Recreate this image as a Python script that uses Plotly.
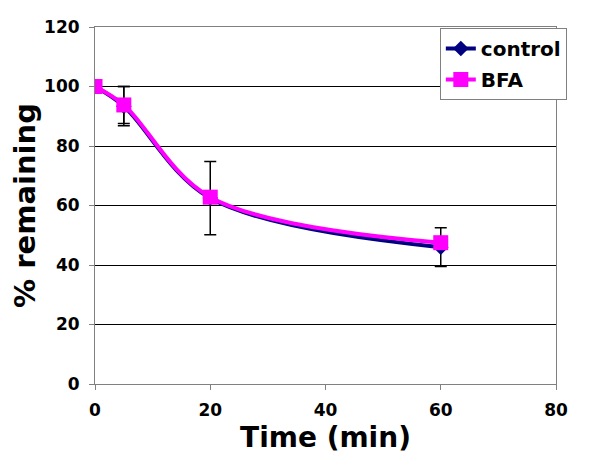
import plotly.graph_objects as go

# time points (min)
time = [0, 5, 20, 60]

# % remaining
control = [100, 93.4, 62.5, 46.0]
control_err = [0, 6.6, 12.3, 6.5]
bfa = [100, 93.8, 62.8, 47.5]
bfa_err = [0, 6.2, 0, 0]

FONT = "DejaVu Sans"

fig = go.Figure()

fig.add_trace(go.Scatter(
    x=time, y=control, name="control", legendgroup="a",
    mode="lines+markers",
    line=dict(color="#000080", width=4, shape="spline", smoothing=1),
    marker=dict(symbol="diamond", size=12, color="#000080"),
    error_y=dict(type="data", array=control_err, color="black", thickness=1.5, width=6),
))
fig.add_trace(go.Scatter(
    x=time, y=bfa, name="BFA", legendgroup="b",
    mode="lines+markers",
    line=dict(color="#FF00FF", width=4, shape="spline", smoothing=1),
    marker=dict(symbol="square", size=15, color="#FF00FF"),
    error_y=dict(type="data", array=bfa_err, color="black", thickness=1.5, width=6),
))

# page body has an 8px margin, so the figure is drawn 8px smaller and offset
fig.update_layout(
    width=592, height=459,
    margin=dict(l=87, r=44, t=19, b=83, autoexpand=False),
    paper_bgcolor="white", plot_bgcolor="white",
    font=dict(family=FONT, color="black"),
    legend=dict(
        x=0.748, y=0.997, xanchor="left", yanchor="top",
        bordercolor="#808080", borderwidth=1, bgcolor="white",
        font=dict(family=FONT, size=20, color="black", weight="bold"),
        traceorder="grouped", tracegroupgap=2,
    ),
    showlegend=True,
)

fig.update_xaxes(
    range=[0, 80], tickvals=[0, 20, 40, 60, 80],
    showgrid=False, zeroline=False,
    showline=True, linecolor="#808080", linewidth=1, mirror=True,
    ticks="outside", ticklen=5, tickcolor="#808080", ticklabelstandoff=6,
    tickfont=dict(family=FONT, size=17, weight="bold"),
    title=dict(text="Time (min)", font=dict(family=FONT, size=28, weight="bold"), standoff=7),
)
fig.update_yaxes(
    range=[0, 120], tickvals=[0, 20, 40, 60, 80, 100, 120],
    showgrid=True, gridcolor="black", gridwidth=1, zeroline=False,
    showline=True, linecolor="#808080", linewidth=1, mirror=True,
    ticks="outside", ticklen=5, tickcolor="#808080", ticklabelstandoff=6,
    tickfont=dict(family=FONT, size=17, weight="bold"),
    title=dict(text="% remaining", font=dict(family=FONT, size=29, weight="bold"), standoff=4),
)

fig.write_html("out.html")
